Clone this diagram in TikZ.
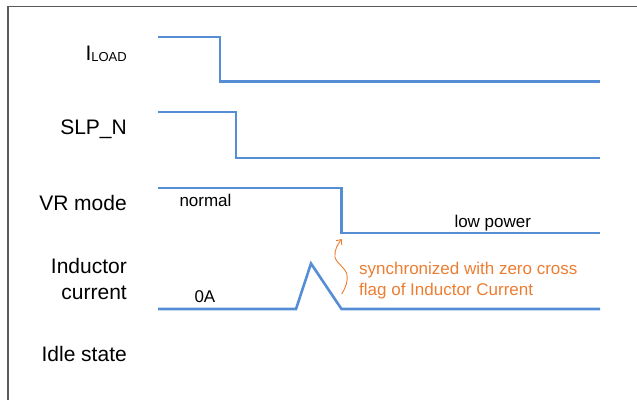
\documentclass[tikz,border=0pt]{standalone}
\usepackage{fontspec}
\setmainfont{Liberation Sans}
\usetikzlibrary{arrows.meta}
\definecolor{sigblue}{RGB}{85,142,213}
\definecolor{annorange}{RGB}{237,125,49}
\definecolor{framegray}{RGB}{90,90,90}
\tikzset{
  signal/.style={draw=sigblue, line width=2.6pt, line join=miter},
  sigfont/.style={font=\fontsize{21}{25.7}\selectfont, inner sep=0pt, anchor=base east, align=right},
  smalltext/.style={font=\fontsize{17}{21}\selectfont, inner sep=0pt, anchor=base west},
  annot/.style={font=\fontsize{17}{21}\selectfont, inner sep=0pt, anchor=base west, align=left, text=annorange},
}
\begin{document}
\begin{tikzpicture}[x=1pt,y=-1pt]
\useasboundingbox (0,0) rectangle (637,399);
% frame (top and left only visible)
\draw[framegray, line width=1.3pt] (8,400) -- (8,6.5) -- (640,6.5);

% labels
\node[sigfont] (lload) at (127,60) {I\raisebox{-1pt}{\fontsize{13}{13}\selectfont LOAD}};
\node[sigfont] (lslp) at (127,134) {SLP\_N};
\node[sigfont] (lvr) at (127,210.7) {VR mode};
\node[sigfont] (lind) at (127,299) {Inductor\\current};
\node[sigfont] (lidle) at (127,361) {Idle state};

% ILOAD
\coordinate (a0) at (158,37);
\coordinate (a1) at (220,37);
\coordinate (a2) at (220,81.5);
\coordinate (a3) at (600,81.5);
\draw[signal] (a0) -- (a1) -- (a2) -- (a3);

% SLP_N
\coordinate (b0) at (158,112);
\coordinate (b1) at (236,112);
\coordinate (b2) at (236,158);
\coordinate (b3) at (600,158);
\draw[signal] (b0) -- (b1) -- (b2) -- (b3);

% VR mode
\coordinate (c0) at (158,188);
\coordinate (c1) at (341.5,188);
\coordinate (c2) at (341.5,233);
\coordinate (c3) at (600,233);
\draw[signal] (c0) -- (c1) -- (c2) -- (c3);
\node[smalltext] (tnormal) at (179.3,206) {normal};
\node[smalltext] (tlow) at (454.3,227) {low power};

% Inductor current
\coordinate (d0) at (158,309);
\coordinate (d1) at (296,309);
\coordinate (d2) at (311,263.5);
\coordinate (d3) at (341.5,309);
\coordinate (d4) at (600,309);
\draw[signal] (d0) -- (d1) -- (d2) -- (d3) -- (d4);
\node[smalltext] (t0a) at (194.3,302.5) {0A};

% annotation
\node[annot] (sync) at (359,295) {synchronized with zero cross\\flag of Inductor Current};
\coordinate (s0) at (341.7,294);
\coordinate (s1) at (347,275);
\coordinate (s2) at (335,257);
\coordinate (s3) at (341.7,239);
\draw[annorange, line width=0.9pt, -{Straight Barb[length=4pt,width=7pt]}]
  (s0) .. controls (346,287) and (348,281) .. (s1)
       .. controls (346,268) and (336,263) .. (s2)
       .. controls (334,250) and (338,244) .. (s3);
\end{tikzpicture}
\end{document}
